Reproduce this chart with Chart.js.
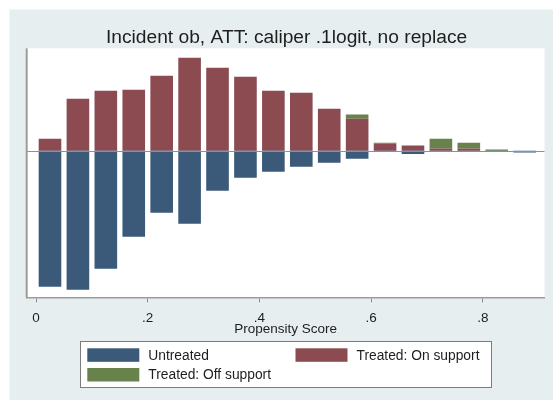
<!DOCTYPE html>
<html>
<head>
<meta charset="utf-8">
<script src="https://cdn.jsdelivr.net/npm/chart.js@4.4.1/dist/chart.umd.min.js"></script>
<style>
  html, body { margin: 0; padding: 0; background: #fff; }
  #lienzo { display: block; }
</style>
</head>
<body>
<canvas id="lienzo" width="553" height="400"></canvas>
<script>
/* Histograma espejo del propensity score (estilo psgraph de Stata):
 * tratados hacia arriba, no tratados hacia abajo. Valores leídos a ojo
 * de la figura; la escala vertical es arbitraria (no hay etiquetas en y). */

const TITULO = 'Incident ob, ATT: caliper .1logit, no replace';
const TITULO_X = 'Propensity Score';

// Centro de cada intervalo de 0.05
const CENTROS = [0.025, 0.075, 0.125, 0.175, 0.225, 0.275, 0.325, 0.375, 0.425,
                 0.475, 0.525, 0.575, 0.625, 0.675, 0.725, 0.775, 0.825, 0.875];

const NO_TRATADOS      = [-136, -139, -118, -86, -62, -73, -40, -27, -21,
                          -16, -12, -8, -1.3, -3.3, -1, -0.7, -0.3, -1.8];
const TRATADOS_SOPORTE = [12, 52, 60, 61, 75, 93, 83, 74, 60,
                          58, 42, 32, 7, 5.3, 2.3, 2.3, 0, 0];
const TRATADOS_FUERA   = [0, 0, 0, 0, 0, 0, 0, 0, 0,
                          0, 0, 4.3, 1, 0, 9.7, 5.7, 1.2, 0];

const SERIES = ['Untreated', 'Treated: On support', 'Treated: Off support'];

const MARCAS_X = [0, 0.2, 0.4, 0.6, 0.8];
const ETIQUETAS_X = ['0', '.2', '.4', '.6', '.8'];

/* ── Colores ─────────────────────────────────────────── */
const AZUL  = '#3b5979';
const ROJO  = '#8b4b50';
const VERDE = '#67824a';
const FONDO = '#e7eef0';
const GRIS_EJE = '#9c9c9c';
const FUENTE = '"Liberation Sans", Arial, Helvetica, sans-serif';

const puntos = (vals) => vals.map((v, i) => ({ x: CENTROS[i], y: v }));

/* Fondo, líneas de eje, título y leyenda: lo que Chart.js no dibuja igual
 * que Stata se pinta aquí a mano. */
const decoracion = {
  id: 'decoracion',
  beforeDraw(chart) {
    const { ctx, chartArea: a } = chart;
    ctx.save();
    ctx.fillStyle = '#ffffff';
    ctx.fillRect(0, 0, chart.width, chart.height);
    ctx.fillStyle = FONDO;
    ctx.fillRect(9.5, 9.5, chart.width - 9.5, chart.height - 9.5);
    ctx.fillStyle = '#ffffff';
    ctx.fillRect(a.left, a.top, a.right - a.left, a.bottom - a.top);
    ctx.restore();
  },
  afterDatasetsDraw(chart) {
    const { ctx, chartArea: a } = chart;
    const y0 = chart.scales.y.getPixelForValue(0);
    ctx.save();
    // línea de cero
    ctx.strokeStyle = '#8f8f8f';
    ctx.lineWidth = 1;
    ctx.beginPath();
    ctx.moveTo(a.left, Math.round(y0) + 0.5);
    ctx.lineTo(a.right, Math.round(y0) + 0.5);
    ctx.stroke();
    // eje izquierdo
    ctx.strokeStyle = GRIS_EJE;
    ctx.lineWidth = 2;
    ctx.beginPath();
    ctx.moveTo(a.left, a.top);
    ctx.lineTo(a.left, a.bottom);
    ctx.stroke();
    ctx.restore();
  },
  afterDraw(chart) {
    const { ctx, chartArea: a } = chart;
    const cx = (a.left + a.right) / 2;
    ctx.save();
    ctx.fillStyle = '#1e1e1e';
    ctx.textAlign = 'center';
    ctx.textBaseline = 'alphabetic';
    ctx.font = `19.2px ${FUENTE}`;
    ctx.fillText(TITULO, cx + 1, 42.8);
    ctx.font = `13.5px ${FUENTE}`;
    ctx.fillText(TITULO_X, cx, 332.5);

    // leyenda en dos columnas
    ctx.fillStyle = '#ffffff';
    ctx.fillRect(80.5, 341.5, 411, 46);
    ctx.strokeStyle = '#7c7c7c';
    ctx.lineWidth = 1;
    ctx.strokeRect(80.5, 341.5, 411, 46);
    const cols = [87.3, 295.5];
    const filas = [348.3, 368];
    ctx.textAlign = 'left';
    ctx.textBaseline = 'middle';
    ctx.font = `13.8px ${FUENTE}`;
    chart.data.datasets.forEach((ds, i) => {
      const x = cols[i % 2];
      const y = filas[Math.floor(i / 2)];
      ctx.fillStyle = ds.backgroundColor;
      ctx.fillRect(x, y, 52, 13.5);
      ctx.fillStyle = '#1e1e1e';
      ctx.fillText(ds.label, x + 61, y + 7.5);
    });
    ctx.restore();
  },
};

const barra = { borderWidth: 0, categoryPercentage: 1, barPercentage: 0.81 };

new Chart(document.getElementById('lienzo'), {
  type: 'bar',
  data: {
    datasets: [
      { label: SERIES[0], data: puntos(NO_TRATADOS), backgroundColor: AZUL, ...barra },
      { label: SERIES[1], data: puntos(TRATADOS_SOPORTE), backgroundColor: ROJO, ...barra },
      { label: SERIES[2], data: puntos(TRATADOS_FUERA), backgroundColor: VERDE, ...barra },
    ],
  },
  options: {
    responsive: false,
    animation: false,
    layout: { padding: { top: 48.3, left: 26.7, right: 8.5, bottom: 0 } },
    plugins: {
      legend: { display: false },
      title: { display: false },
      tooltip: { enabled: false },
    },
    scales: {
      x: {
        type: 'linear',
        stacked: true,
        offset: false,
        min: -0.0167,
        max: 0.9105,
        afterBuildTicks: (s) => { s.ticks = MARCAS_X.map((v) => ({ value: v })); },
        afterFit: (s) => { s.height = 400 - 297.3; },
        grid: { offset: false, drawOnChartArea: false, drawTicks: true, tickLength: 5, color: '#8a8a8a' },
        border: { display: true, color: GRIS_EJE, width: 1.5 },
        ticks: {
          autoSkip: false,
          maxRotation: 0,
          padding: 8,
          color: '#1e1e1e',
          font: { family: FUENTE, size: 13.5 },
          callback: (v, i) => ETIQUETAS_X[i],
        },
      },
      y: {
        display: false,
        stacked: true,
        min: -146.6,
        max: 102.4,
      },
    },
  },
  plugins: [decoracion],
});
</script>
</body>
</html>
